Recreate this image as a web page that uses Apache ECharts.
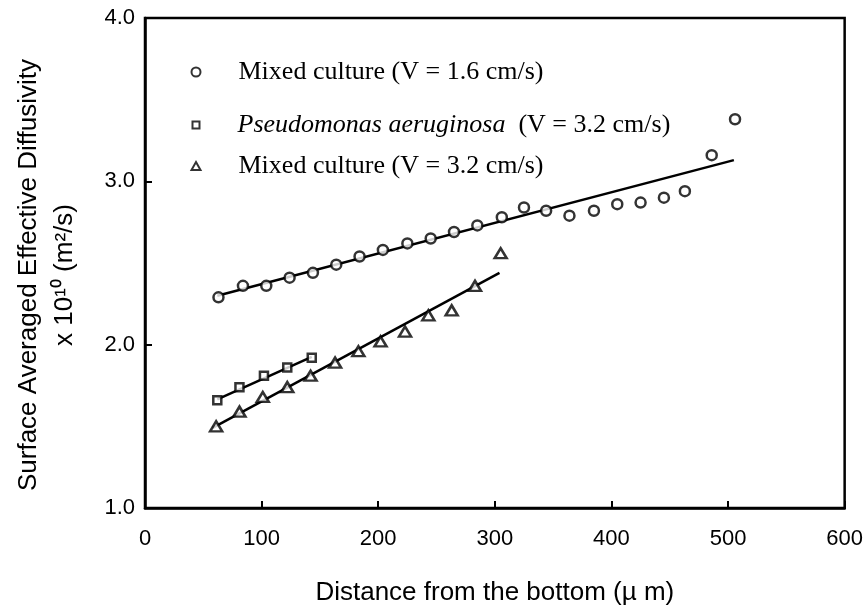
<!DOCTYPE html>
<html>

<head>
    <meta charset="utf-8">
    <title>ECharts</title>
    <script src="https://cdn.jsdelivr.net/npm/echarts@6/dist/echarts.min.js"></script>
</head>

<body style="margin:0;background:#fff;">
    <div id="main" style="width: 866px;height: 611px;"></div>
    <script type="text/javascript">

        // 数据
        var seriesNames = ['Mixed culture (V = 1.6 cm/s)', 'Pseudomonas aeruginosa (V = 3.2 cm/s)', 'Mixed culture (V = 3.2 cm/s)'];

        var mix16X = [63, 84, 104, 124, 144, 164, 184, 204, 225, 245, 265, 285, 306, 325, 344, 364, 385, 405, 425, 445, 463, 486, 506];
        var mix16Y = [2.29, 2.36, 2.36, 2.41, 2.44, 2.49, 2.54, 2.58, 2.62, 2.65, 2.69, 2.73, 2.78, 2.84, 2.82, 2.79, 2.82, 2.86, 2.87, 2.90, 2.94, 3.16, 3.38];

        var pseuX = [62, 81, 102, 122, 143];
        var pseuY = [1.66, 1.74, 1.81, 1.86, 1.92];

        var mix32X = [61, 81, 101, 122, 142, 163, 183, 202, 223, 243, 263, 283, 305];
        var mix32Y = [1.50, 1.59, 1.68, 1.74, 1.81, 1.89, 1.96, 2.02, 2.08, 2.18, 2.21, 2.36, 2.56];

        // 拟合直线（两端点）
        var fit16X = [62, 505];
        var fit16Y = [2.30, 3.13];
        var fitPsX = [62, 143];
        var fitPsY = [1.665, 1.925];
        var fit32X = [58, 304];
        var fit32Y = [1.49, 2.44];

        var xTicks = [0, 100, 200, 300, 400, 500, 600];
        var yTicks = [1.0, 2.0, 3.0, 4.0];

        function pairs(xs, ys) {
            return xs.map(function (x, i) { return [x, ys[i]]; });
        }

        var myChart = echarts.init(document.getElementById('main'));

        var markerStyle = { color: '#fff', borderColor: '#000', borderWidth: 2.5 };
        var legendText = {
            fontFamily: 'Liberation Serif',
            fontSize: 26,
            color: '#000',
            padding: [0, 0, 0, 33],
            rich: {
                it: { fontFamily: 'Liberation Serif', fontSize: 26, fontStyle: 'italic', color: '#000' },
                n: { fontFamily: 'Liberation Serif', fontSize: 26, color: '#000' }
            }
        };

        function makeLegend(name, icon, center, w, h) {
            return {
                data: [{ name: name, icon: icon }],
                left: 190 - w / 2,
                top: center - 14,
                itemWidth: w,
                itemHeight: h,
                itemStyle: { color: '#fff', borderColor: '#000', borderWidth: 2 },
                textStyle: legendText,
                selectedMode: false,
                formatter: function (n) {
                    if (n.indexOf('Pseudomonas') === 0) {
                        return '{it|Pseudomonas aeruginosa}{n|  (V = 3.2 cm/s)}';
                    }
                    return n;
                }
            };
        }

        var option = {
            backgroundColor: '#fff',
            animation: false,
            grid: {
                left: 145,
                right: 21,
                top: 18,
                bottom: 102,
                show: true,
                borderColor: '#000',
                borderWidth: 2.5
            },
            legend: [
                makeLegend(seriesNames[0], 'circle', 68, 9, 9),
                makeLegend(seriesNames[1], 'rect', 121, 7, 7),
                makeLegend(seriesNames[2], 'triangle', 162, 9, 8)
            ],
            xAxis: {
                type: 'value',
                min: 0,
                max: 600,
                interval: 100,
                name: 'Distance from the bottom (\u00b5 m)',
                nameLocation: 'middle',
                nameGap: 72,
                nameTextStyle: { fontFamily: 'Liberation Sans', fontSize: 26, color: '#000' },
                axisLine: { lineStyle: { color: '#000', width: 2.5 } },
                axisTick: { inside: true, length: 7, lineStyle: { color: '#000', width: 2 } },
                axisLabel: { fontFamily: 'Liberation Sans', fontSize: 22, color: '#000', margin: 20 },
                splitLine: { show: false }
            },
            yAxis: {
                type: 'value',
                min: 1,
                max: 4,
                interval: 1,
                name: 'Surface Averaged Effective Diffusivity\nx 10\u00b9\u2070 (m\u00b2/s)',
                nameLocation: 'middle',
                nameRotate: 90,
                nameGap: 62,
                nameTextStyle: { fontFamily: 'Liberation Sans', fontSize: 26, color: '#000', lineHeight: 36, padding: [0, 24, 0, 0] },
                axisLine: { lineStyle: { color: '#000', width: 2.5 } },
                axisTick: { inside: true, length: 7, lineStyle: { color: '#000', width: 2 } },
                axisLabel: {
                    fontFamily: 'Liberation Sans', fontSize: 22, color: '#000', margin: 10,
                    formatter: function (v) { return v.toFixed(1); }
                },
                splitLine: { show: false }
            },
            series: [
                { name: 'fit16', type: 'line', data: pairs(fit16X, fit16Y), symbol: 'none', lineStyle: { color: '#000', width: 2.5 }, z: 1 },
                { name: 'fitPs', type: 'line', data: pairs(fitPsX, fitPsY), symbol: 'none', lineStyle: { color: '#000', width: 2.5 }, z: 1 },
                { name: 'fit32', type: 'line', data: pairs(fit32X, fit32Y), symbol: 'none', lineStyle: { color: '#000', width: 2.5 }, z: 1 },
                { name: seriesNames[0], type: 'scatter', data: pairs(mix16X, mix16Y), symbol: 'circle', symbolSize: 10, itemStyle: markerStyle, z: 3 },
                { name: seriesNames[1], type: 'scatter', data: pairs(pseuX, pseuY), symbol: 'rect', symbolSize: 8, itemStyle: markerStyle, z: 3 },
                { name: seriesNames[2], type: 'scatter', data: pairs(mix32X, mix32Y), symbol: 'triangle', symbolSize: [12, 10], itemStyle: markerStyle, z: 3 }
            ]
        };

        myChart.setOption(option);

        window.onresize = myChart.resize;
    </script>
</body>

</html>
